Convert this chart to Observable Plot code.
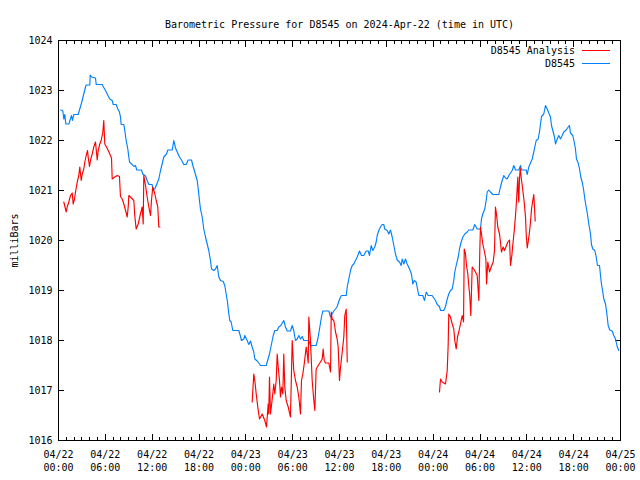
<!DOCTYPE html>
<html>
<head>
<meta charset="utf-8">
<script src="https://cdn.jsdelivr.net/npm/d3@7"></script>
<script src="https://cdn.jsdelivr.net/npm/@observablehq/plot@0.6"></script>
<style>
  html, body { margin: 0; padding: 0; background: #fff; }
  #chart svg { display: block; }
</style>
</head>
<body>
<div id="chart"></div>
<script>
// ---- Data (hours after 2024-04-22 00:00 UTC, pressure in mb) ----
const startTime = Date.UTC(2024, 3, 22, 0, 0);
const endTime = Date.UTC(2024, 3, 25, 0, 0);
const titleText = "Barometric Pressure for D8545 on 2024-Apr-22 (time in UTC)";
const yLabel = "milliBars";
const seriesNames = ["D8545 Analysis", "D8545"];
const seriesColors = ["#ff0000", "#0080ff"];
const yTicks = [1016, 1017, 1018, 1019, 1020, 1021, 1022, 1023, 1024];

const stationHours = [0.26,0.55,0.68,0.81,0.94,1.32,1.67,1.79,1.96,2.52,2.69,2.95,3.24,3.46,3.55,4.01,4.06,4.23,4.74,4.83,5.60,5.76,6.02,6.24,6.57,6.88,7.01,7.39,7.60,7.81,7.94,8.03,8.37,8.49,8.67,8.88,9.01,9.10,9.44,9.65,9.86,10.03,10.63,10.80,11.15,11.36,11.57,12.00,12.08,12.34,12.52,12.85,13.07,13.28,13.49,13.84,14.00,14.57,14.77,14.99,15.21,15.50,15.76,16.05,16.36,16.62,17.04,17.21,17.46,17.77,17.90,18.06,18.19,18.41,18.61,18.83,19.05,19.25,19.47,19.60,19.90,20.11,20.33,20.54,20.75,21.10,21.30,21.48,21.65,21.82,21.95,22.12,22.33,23.10,23.32,23.44,23.74,23.87,24.17,24.38,24.60,24.81,25.02,25.15,25.46,25.66,25.88,26.61,26.74,27.03,27.29,27.51,27.71,28.02,28.22,28.48,28.66,28.86,29.08,29.30,29.72,29.94,30.14,30.36,30.58,30.79,31.00,31.22,31.43,32.07,32.28,33.01,33.22,33.44,33.69,33.86,34.63,34.85,35.06,35.27,35.49,35.70,35.91,36.13,36.26,36.86,36.99,37.19,37.41,37.63,37.83,38.05,38.27,38.56,38.82,39.11,39.42,39.68,39.84,40.06,40.27,40.52,40.70,40.83,41.03,41.25,41.47,41.67,41.80,42.11,42.32,42.53,42.75,42.96,43.17,43.39,43.69,43.90,44.03,44.24,44.45,44.67,44.97,45.22,45.39,45.57,45.82,46.03,46.16,46.67,46.89,47.11,47.36,47.87,48.08,48.30,48.52,48.81,48.94,49.36,49.58,49.80,50.00,50.22,50.44,50.64,50.77,50.95,51.21,51.37,51.59,51.80,52.05,52.36,52.56,53.08,53.33,53.64,54.06,54.19,54.36,54.61,54.79,54.92,55.13,55.34,55.64,56.41,56.62,56.84,57.05,57.27,57.48,57.69,57.91,58.12,58.33,58.55,58.97,59.19,59.32,59.92,60.05,60.25,60.47,60.69,60.89,61.02,61.20,61.45,61.62,61.75,61.88,62.17,62.39,62.61,62.81,63.03,63.16,63.38,63.54,63.67,63.89,64.09,64.31,64.53,64.73,65.04,65.30,65.46,65.59,65.89,66.07,66.23,66.36,66.58,66.75,66.91,67.09,67.26,67.43,67.60,67.77,67.94,68.16,68.28,68.45,68.71,68.89,69.05,69.31,69.44,69.56,69.73,69.86,70.08,70.20,70.33,70.42,70.63,70.93,71.14,71.36,71.57,71.78];
const stationPressure = [1022.61,1022.60,1022.43,1022.52,1022.33,1022.33,1022.50,1022.40,1022.52,1022.52,1022.61,1022.75,1022.93,1023.07,1023.11,1023.11,1023.31,1023.27,1023.25,1023.12,1023.12,1023.07,1023.00,1022.93,1022.83,1022.80,1022.72,1022.72,1022.63,1022.57,1022.47,1022.32,1022.32,1022.20,1022.00,1021.83,1021.67,1021.57,1021.52,1021.48,1021.50,1021.41,1021.41,1021.33,1021.29,1021.20,1021.12,1021.12,1021.03,1021.03,1021.10,1021.23,1021.40,1021.53,1021.67,1021.73,1021.81,1021.81,1022.00,1021.85,1021.77,1021.67,1021.61,1021.52,1021.52,1021.61,1021.61,1021.50,1021.37,1021.20,1021.03,1020.80,1020.63,1020.47,1020.23,1020.07,1019.93,1019.80,1019.60,1019.43,1019.40,1019.43,1019.50,1019.27,1019.20,1019.18,1019.10,1018.93,1018.77,1018.53,1018.40,1018.37,1018.20,1018.20,1018.08,1018.00,1018.03,1018.10,1018.00,1017.92,1017.99,1017.87,1017.77,1017.63,1017.59,1017.55,1017.50,1017.50,1017.57,1017.73,1017.93,1018.10,1018.20,1018.20,1018.27,1018.30,1018.35,1018.40,1018.27,1018.19,1018.19,1018.30,1018.20,1018.00,1018.03,1018.10,1018.03,1018.08,1018.00,1018.00,1017.90,1017.90,1018.03,1018.23,1018.47,1018.59,1018.59,1018.47,1018.53,1018.59,1018.63,1018.68,1018.78,1018.87,1018.90,1018.90,1019.07,1019.23,1019.40,1019.50,1019.53,1019.60,1019.67,1019.79,1019.70,1019.70,1019.79,1019.79,1019.70,1019.90,1019.80,1019.87,1019.97,1020.10,1020.20,1020.27,1020.32,1020.32,1020.23,1020.20,1020.13,1020.21,1020.07,1019.90,1019.73,1019.61,1019.57,1019.50,1019.63,1019.53,1019.63,1019.53,1019.43,1019.33,1019.13,1019.20,1019.17,1019.00,1018.90,1018.90,1018.80,1018.97,1018.90,1018.90,1018.85,1018.80,1018.72,1018.68,1018.60,1018.60,1018.68,1018.83,1018.93,1019.00,1019.03,1019.20,1019.37,1019.50,1019.67,1019.83,1019.97,1020.07,1020.13,1020.17,1020.21,1020.21,1020.32,1020.23,1020.23,1020.43,1020.53,1020.63,1020.80,1020.97,1021.01,1020.97,1020.92,1020.92,1021.07,1021.20,1021.30,1021.25,1021.23,1021.30,1021.35,1021.40,1021.50,1021.41,1021.41,1021.50,1021.41,1021.41,1021.32,1021.47,1021.55,1021.63,1021.77,1021.87,1022.00,1022.03,1022.17,1022.33,1022.48,1022.53,1022.70,1022.63,1022.55,1022.47,1022.30,1022.17,1022.07,1021.93,1022.03,1022.10,1022.03,1022.10,1022.17,1022.21,1022.27,1022.30,1022.15,1022.10,1021.97,1021.83,1021.63,1021.55,1021.43,1021.27,1021.17,1021.03,1020.83,1020.67,1020.52,1020.33,1020.13,1019.92,1019.83,1019.80,1019.67,1019.50,1019.50,1019.30,1019.13,1018.97,1018.83,1018.73,1018.60,1018.43,1018.30,1018.21,1018.19,1018.10,1018.03,1017.88,1017.80];

// Analysis series: null marks a gap between runs
const analysisHours = [0.68,0.99,1.11,1.32,1.54,1.76,1.88,2.05,2.18,2.40,2.60,2.73,2.91,3.04,3.24,3.37,3.55,3.72,3.80,3.97,4.14,4.32,4.52,4.74,4.96,5.09,5.29,5.47,5.68,5.80,5.93,6.11,6.37,6.57,6.79,6.88,7.21,7.52,7.81,7.94,8.16,8.37,8.58,8.80,8.93,9.01,9.35,9.65,9.77,9.95,10.21,10.50,10.72,10.85,10.93,11.15,11.36,11.57,11.79,11.91,12.08,12.34,12.52,12.72,12.85,13.00,
  18.0,
  24.81,25.02,25.15,25.33,25.53,25.75,26.10,26.43,26.65,26.86,26.94,27.03,27.16,27.38,27.58,27.71,27.89,28.02,28.15,28.31,28.44,28.57,28.74,28.86,28.99,29.17,29.43,29.72,29.94,30.14,30.36,30.58,30.79,31.00,31.13,31.30,31.48,31.73,31.86,31.99,32.07,32.28,32.50,32.71,32.84,33.01,33.27,33.56,33.78,33.91,34.04,34.21,34.63,34.85,34.94,35.06,35.27,35.40,35.49,35.70,35.83,36.00,36.13,36.35,36.55,36.68,36.86,36.99,
  42.0,
  48.81,48.94,49.16,49.58,49.80,49.92,50.00,50.22,50.44,50.64,50.77,50.95,51.12,51.28,51.50,51.72,51.89,51.98,52.14,52.27,52.44,52.56,52.69,52.82,53.00,53.20,53.42,53.64,53.85,53.98,54.06,54.19,54.36,54.58,54.75,54.84,55.00,55.22,55.43,55.69,55.86,55.98,56.11,56.28,56.50,56.62,56.75,56.97,57.14,57.39,57.56,57.78,57.91,58.08,58.21,58.39,58.55,58.68,58.77,58.85,58.90,58.97,59.06,59.15,59.28,59.41,59.54,59.66,59.83,59.92,60.05,60.17,60.34,60.47,60.60,60.76,60.89,60.98,61.07];
const analysisPressure = [1020.77,1020.57,1020.67,1020.77,1020.90,1020.95,1020.73,1020.83,1020.97,1021.17,1021.30,1021.47,1021.20,1021.33,1021.43,1021.57,1021.70,1021.80,1021.67,1021.48,1021.63,1021.73,1021.87,1021.97,1021.61,1021.80,1021.93,1022.00,1022.17,1022.40,1021.93,1021.88,1021.80,1021.73,1021.65,1021.23,1021.27,1021.30,1021.28,1020.88,1020.83,1020.73,1020.61,1020.47,1020.67,1020.90,1020.85,1020.80,1020.50,1020.23,1020.33,1020.53,1020.67,1020.33,1021.30,1021.10,1020.87,1020.67,1020.50,1020.80,1021.07,1020.93,1020.80,1020.67,1020.27,1020.27,
  null,
  1016.77,1017.33,1017.20,1016.93,1016.67,1016.43,1016.53,1016.40,1016.27,1016.73,1016.53,1017.27,1016.53,1016.83,1017.13,1016.93,1017.20,1017.73,1017.47,1017.20,1016.87,1017.07,1016.93,1017.73,1017.07,1016.80,1016.67,1016.47,1018.00,1017.40,1017.20,1017.07,1016.87,1016.53,1017.20,1017.33,1017.53,1017.87,1017.73,1017.55,1018.47,1018.00,1017.20,1016.80,1016.60,1017.43,1017.50,1017.57,1017.63,1017.83,1017.60,1017.55,1017.55,1017.37,1018.57,1018.43,1018.40,1018.27,1018.17,1018.03,1017.87,1017.20,1017.47,1017.77,1018.07,1018.50,1018.63,1017.57,
  null,
  1016.97,1017.23,1017.17,1017.13,1017.40,1017.90,1018.53,1018.47,1018.33,1018.23,1018.00,1017.83,1018.07,1018.17,1018.33,1018.50,1018.37,1019.83,1019.73,1019.50,1019.33,1019.10,1018.90,1018.50,1019.47,1019.43,1019.37,1019.30,1018.80,1019.83,1020.27,1020.13,1019.93,1019.77,1019.63,1019.13,1019.57,1019.37,1019.47,1019.57,1019.80,1020.67,1020.53,1020.27,1020.13,1019.97,1019.77,1019.87,1019.80,1019.90,1019.97,1020.01,1019.50,1019.70,1019.93,1020.20,1020.50,1020.80,1021.07,1021.27,1020.93,1020.77,1021.23,1021.45,1021.25,1021.10,1020.93,1020.77,1020.47,1020.12,1019.85,1019.97,1020.17,1020.37,1020.63,1020.80,1020.92,1020.67,1020.39];

// ---- Build tables ----
const toDate = h => new Date(startTime + h * 3600e3);
const stationData = stationHours.map((h, i) => ({time: toDate(h), p: stationPressure[i]}));
const analysisData = analysisHours.map((h, i) => ({time: toDate(h), p: analysisPressure[i]}));

const FONT = "'DejaVu Sans Mono', 'Liberation Mono', monospace";
const fmt = d3.utcFormat("%m/%d\n%H:%M");

const chart = Plot.plot({
  width: 640,
  height: 480,
  marginLeft: 58,
  marginRight: 20,
  marginTop: 40,
  marginBottom: 40,
  style: {fontFamily: FONT, fontSize: "10px", background: "#fff", color: "#000"},
  x: {type: "utc", domain: [new Date(startTime), new Date(endTime)]},
  y: {domain: [1016, 1024]},
  marks: [
    // minor x ticks (every 90 min), bottom and top, pointing inward
    Plot.axisX({anchor: "bottom", ticks: d3.utcMinute.every(90), tickSize: -3, text: null, label: null, shapeRendering: "crispEdges"}),
    Plot.axisX({anchor: "top", ticks: d3.utcMinute.every(90), tickSize: -3, text: null, label: null, shapeRendering: "crispEdges"}),
    // major x ticks
    Plot.axisX({anchor: "bottom", ticks: d3.utcHour.every(6), tickSize: -6, text: null, label: null, shapeRendering: "crispEdges"}),
    Plot.axisX({anchor: "top", ticks: d3.utcHour.every(6), tickSize: -6, text: null, label: null, shapeRendering: "crispEdges"}),
    // x tick labels
    Plot.axisX({anchor: "bottom", ticks: d3.utcHour.every(6), tickSize: 0, tickPadding: 8, tickFormat: fmt, lineHeight: 1.3, label: null}),
    // y ticks
    Plot.axisY({anchor: "left", ticks: yTicks, tickSize: -6, text: null, label: null, shapeRendering: "crispEdges"}),
    Plot.axisY({anchor: "right", ticks: yTicks, tickSize: -6, text: null, label: null, shapeRendering: "crispEdges"}),
    Plot.axisY({anchor: "left", ticks: yTicks, tickSize: 0, tickPadding: 6, tickFormat: d3.format("d"),
      label: yLabel, labelAnchor: "center", labelOffset: 48, labelArrow: "none"}),
    Plot.line(stationData, {x: "time", y: "p", stroke: seriesColors[1], strokeWidth: 1.15}),
    Plot.line(analysisData, {x: "time", y: "p", stroke: seriesColors[0], strokeWidth: 1.15}),
    Plot.frame({stroke: "#000", shapeRendering: "crispEdges"}),
    Plot.text([titleText], {frameAnchor: "top", dy: -20, text: d => d, fontSize: 10})
  ]
});

// Legend (top-right inside the frame, gnuplot style)
const svg = d3.select(chart);
const legend = svg.append("g").attr("font-family", FONT).attr("font-size", 10);
seriesNames.forEach((name, i) => {
  const y = 50 + i * 13;
  legend.append("text").attr("x", 575).attr("y", y).attr("dy", "0.35em")
    .attr("text-anchor", "end").attr("fill", "#000").text(name);
  legend.append("line").attr("x1", 582).attr("x2", 610).attr("y1", y).attr("y2", y)
    .attr("stroke", seriesColors[i]).attr("stroke-width", 1).attr("shape-rendering", "crispEdges");
});

document.getElementById("chart").appendChild(chart);
</script>
</body>
</html>
